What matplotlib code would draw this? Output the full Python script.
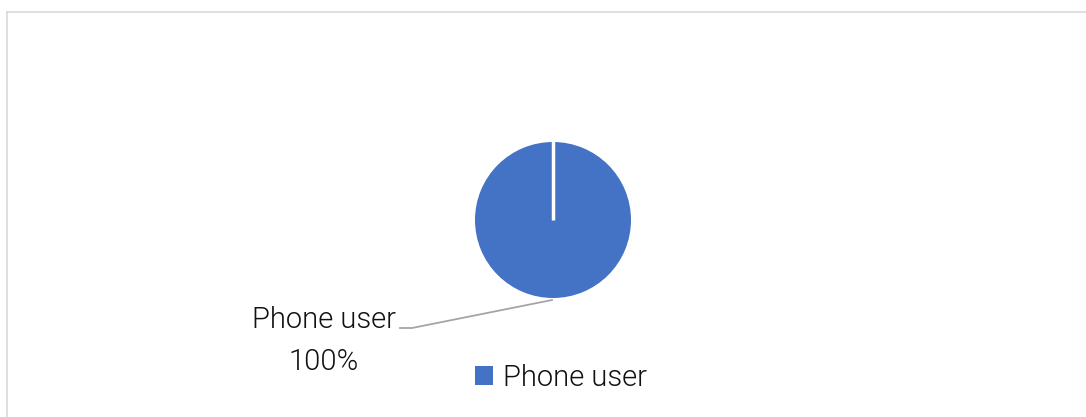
import matplotlib.pyplot as plt
from matplotlib.lines import Line2D

labels = ["Phone user"]
values = [100]
colors = ["#4472C4"]

W, H = 1086, 417
fig = plt.figure(figsize=(W / 100, H / 100), dpi=100)
font = dict(family="Roboto", fontsize=21, fontweight=300, color="#111111")

# outer chart border (light gray)
fig.add_artist(Line2D([7 / W, 7 / W], [0, 1 - 12 / H], color="#d9d9d9", lw=1.2))
fig.add_artist(Line2D([7 / W, 1], [1 - 12 / H, 1 - 12 / H], color="#d9d9d9", lw=1.2))

# pie axes: center (553, 220), radius 78 px
cx, cy, r = 553, 220, 78
ax = fig.add_axes([(cx - r) / W, 1 - (cy + r) / H, 2 * r / W, 2 * r / H])
wedges, _ = ax.pie(values, colors=colors, startangle=90, counterclock=False,
                   wedgeprops=dict(linewidth=0))
# slice boundary at the start angle
ax.plot([0, 0], [0, 1.02], color="white", lw=2.5, solid_capstyle="butt")
ax.set_xlim(-1, 1)
ax.set_ylim(-1, 1)
ax.set_aspect("equal")
ax.axis("off")

# data label with leader line
pct = values[0] / sum(values) * 100
fig.text(324 / W, 1 - 320 / H, labels[0], ha="center", va="center", **font)
fig.text(324 / W, 1 - 362 / H, f"{pct:.0f}%", ha="center", va="center", **font)
fig.add_artist(Line2D([400 / W, 412 / W, 552 / W],
                      [1 - 328 / H, 1 - 328 / H, 1 - 300 / H],
                      color="#a6a6a6", lw=1.3))

leg = fig.legend(wedges, labels, loc="center left",
                 bbox_to_anchor=(449 / W, 1 - 378 / H), frameon=False,
                 handlelength=0.6, handleheight=0.6, handletextpad=0.35,
                 prop=dict(family="Roboto", size=21, weight=300))
for t in leg.get_texts():
    t.set_color("#111111")

fig.savefig("out.png", dpi=100, facecolor="white")
